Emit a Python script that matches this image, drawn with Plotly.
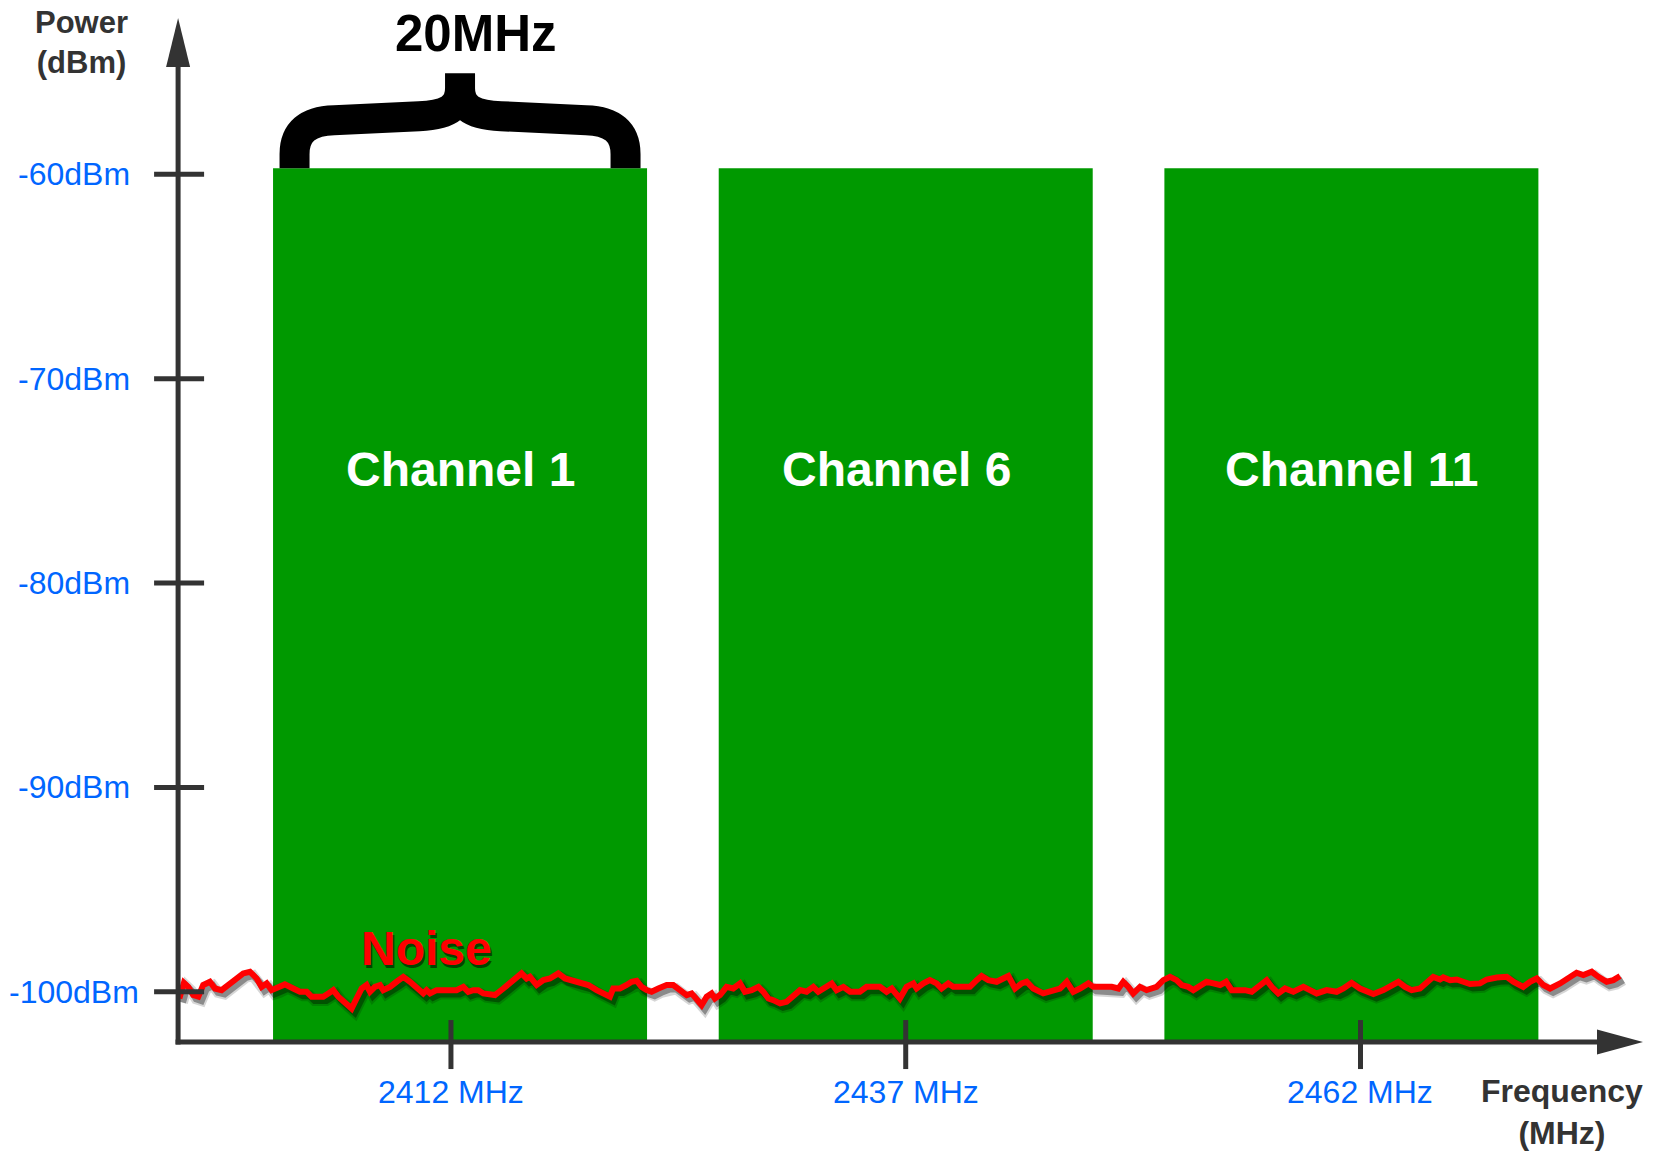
import plotly.graph_objects as go

# ---------------- data ----------------
CHANNELS = ["Channel 1", "Channel 6", "Channel 11"]
CHANNEL_CENTER_MHZ = [2412.5, 2437.0, 2461.5]
CHANNEL_WIDTH_MHZ = [20.56, 20.56, 20.56]
CHANNEL_TOP_DBM = [-59.7, -59.7, -59.7]

Y_TICKS = [-60, -70, -80, -90, -100]
Y_TICK_LABELS = ["-60dBm", "-70dBm", "-80dBm", "-90dBm", "-100dBm"]
X_TICKS = [2412, 2437, 2462]
X_TICK_LABELS = ["2412 MHz", "2437 MHz", "2462 MHz"]

NOISE_MHZ = [
    2397.07, 2397.32, 2397.56, 2397.83, 2398.11, 2398.38, 2398.75, 2399.03, 2399.39, 2399.76,
    2400.22, 2400.58, 2400.95, 2401.32, 2401.59, 2401.87, 2402.14, 2402.42, 2402.87, 2403.33,
    2403.70, 2404.07, 2404.34, 2404.61, 2404.98, 2405.26, 2405.53, 2405.81, 2406.17, 2406.54,
    2406.81, 2407.09, 2407.36, 2407.55, 2407.82, 2408.10, 2408.28, 2408.65, 2409.01, 2409.38,
    2409.75, 2410.11, 2410.48, 2410.66, 2410.85, 2411.21, 2411.76, 2412.31, 2412.68, 2412.95,
    2413.23, 2413.50, 2413.78, 2414.14, 2414.42, 2414.88, 2415.24, 2415.61, 2415.88, 2416.16,
    2416.34, 2416.71, 2417.08, 2417.44, 2417.90, 2418.27, 2418.63, 2419.09, 2419.55, 2420.01,
    2420.37, 2420.74, 2420.92, 2421.29, 2421.66, 2421.93, 2422.21, 2422.48, 2422.76, 2423.03,
    2423.40, 2423.86, 2424.22, 2424.59, 2424.96, 2425.23, 2425.51, 2425.78, 2426.06, 2426.33,
    2426.51, 2426.79, 2427.15, 2427.52, 2427.89, 2428.16, 2428.53, 2428.90, 2429.17, 2429.45,
    2429.72, 2430.09, 2430.45, 2430.82, 2431.19, 2431.55, 2431.92, 2432.19, 2432.56, 2432.93,
    2433.20, 2433.57, 2433.94, 2434.48, 2434.85, 2435.22, 2435.58, 2435.95, 2436.23, 2436.68,
    2437.05, 2437.42, 2437.60, 2437.97, 2438.33, 2438.70, 2438.97, 2439.34, 2439.62, 2439.98,
    2440.53, 2440.90, 2441.17, 2441.54, 2442.00, 2442.36, 2442.64, 2443.01, 2443.37, 2443.65,
    2444.01, 2444.56, 2445.11, 2445.48, 2445.85, 2446.21, 2446.58, 2447.04, 2447.31, 2447.86,
    2448.32, 2448.69, 2448.96, 2449.24, 2449.51, 2449.88, 2450.24, 2450.79, 2451.16, 2451.53,
    2451.89, 2452.17, 2452.53, 2452.81, 2453.18, 2453.54, 2453.91, 2454.28, 2454.61, 2454.92,
    2455.28, 2455.65, 2456.02, 2456.38, 2456.84, 2457.12, 2457.48, 2457.85, 2458.31, 2458.86,
    2459.22, 2459.59, 2460.14, 2460.69, 2461.06, 2461.51, 2461.97, 2462.34, 2462.71, 2463.26,
    2463.62, 2464.08, 2464.45, 2464.81, 2465.27, 2465.64, 2466.00, 2466.37, 2466.55, 2466.92,
    2467.29, 2467.65, 2468.02, 2468.57, 2468.94, 2469.49, 2470.04, 2470.40, 2470.95, 2471.32,
    2471.69, 2472.05, 2472.42, 2472.97, 2473.43, 2473.88, 2474.25, 2474.71, 2475.08, 2475.53,
    2475.90, 2476.27,
]
NOISE_DBM = [
    -100.33, -99.56, -99.76, -100.16, -100.24, -99.67, -99.51, -99.84, -99.92, -99.67,
    -99.43, -99.10, -99.02, -99.35, -99.76, -99.59, -99.92, -99.84, -99.64, -99.84,
    -100.00, -100.00, -100.24, -100.24, -100.24, -100.08, -99.92, -100.24, -100.57, -100.82,
    -100.33, -99.84, -99.67, -100.00, -99.76, -99.67, -99.92, -99.76, -99.51, -99.27,
    -99.51, -99.76, -100.08, -99.92, -100.08, -99.92, -99.92, -99.92, -99.76, -100.00,
    -99.92, -99.92, -100.08, -100.16, -100.16, -99.84, -99.59, -99.35, -99.10, -99.35,
    -99.27, -99.67, -99.43, -99.35, -99.10, -99.35, -99.43, -99.59, -99.67, -99.92,
    -100.08, -100.24, -99.84, -99.84, -99.67, -99.51, -99.46, -99.76, -99.92, -100.00,
    -99.84, -99.67, -99.67, -99.92, -100.16, -100.08, -100.41, -100.65, -100.24, -100.08,
    -100.33, -100.16, -99.76, -99.84, -99.59, -100.00, -99.92, -99.76, -100.00, -100.33,
    -100.41, -100.57, -100.49, -100.24, -99.92, -100.00, -99.76, -100.00, -99.76, -99.59,
    -99.92, -99.76, -100.00, -100.00, -99.76, -99.76, -99.76, -100.00, -99.84, -100.33,
    -99.76, -99.59, -99.84, -99.59, -99.43, -99.59, -99.84, -99.59, -99.76, -99.76,
    -99.76, -99.43, -99.23, -99.43, -99.51, -99.35, -99.23, -99.84, -99.59, -99.51,
    -99.84, -100.08, -99.92, -99.84, -99.51, -100.00, -99.84, -99.59, -99.76, -99.76,
    -99.76, -99.84, -99.51, -99.76, -100.08, -99.76, -99.92, -99.76, -99.43, -99.27,
    -99.43, -99.67, -99.76, -99.92, -99.67, -99.51, -99.59, -99.67, -99.51, -99.92,
    -99.92, -99.92, -100.00, -99.76, -99.43, -99.76, -100.08, -99.84, -100.00, -99.76,
    -99.92, -100.08, -99.92, -100.00, -99.84, -99.56, -99.84, -100.00, -100.11, -99.92,
    -99.76, -99.51, -99.76, -99.92, -99.84, -99.59, -99.27, -99.40, -99.30, -99.43,
    -99.40, -99.51, -99.62, -99.59, -99.40, -99.30, -99.27, -99.51, -99.76, -99.51,
    -99.35, -99.67, -99.84, -99.59, -99.35, -99.07, -99.18, -99.02, -99.27, -99.51,
    -99.43, -99.23,
]

# ---------------- layout / style ----------------
W, H = 1663, 1152
X_RANGE = [2387.21, 2478.63]
Y_RANGE = [-107.84, -51.47]
X_ORIGIN, Y_ORIGIN = 2397.0, -102.46
X_TIP, Y_TIP = 2477.53, -52.35
LABEL_XSHIFT = [0, -9, 0]

GREEN = "#009900"
RED = "#ff0000"
BLUE = "#0066ff"
AXIS = "#333333"
FONT = "Liberation Sans, Arial, Helvetica, sans-serif"


def px(x):
    return x / W


def py(y):
    return 1 - y / H


fig = go.Figure()

fig.add_trace(go.Bar(
    x=CHANNEL_CENTER_MHZ,
    y=[t - Y_ORIGIN for t in CHANNEL_TOP_DBM],
    base=Y_ORIGIN,
    width=CHANNEL_WIDTH_MHZ,
    marker=dict(color=GREEN, line=dict(width=0)),
    hoverinfo="skip",
))

# noise drop shadow (same data, small offset)
SH_DX, SH_DY = 0.17, -0.19
for col, w in [("rgba(0,0,0,0.16)", 11), ("rgba(0,0,0,0.35)", 7)]:
    fig.add_trace(go.Scatter(
        x=[v + SH_DX for v in NOISE_MHZ],
        y=[v + SH_DY for v in NOISE_DBM],
        mode="lines", line=dict(color=col, width=w),
        hoverinfo="skip",
    ))

fig.add_trace(go.Scatter(
    x=NOISE_MHZ, y=NOISE_DBM, mode="lines",
    line=dict(color=RED, width=6), hoverinfo="skip",
))

shapes = []
# axes
shapes.append(dict(type="line", xref="x", yref="y", x0=X_ORIGIN - 0.14, x1=X_TIP - 1.5,
                   y0=Y_ORIGIN, y1=Y_ORIGIN, line=dict(color=AXIS, width=5)))
shapes.append(dict(type="line", xref="x", yref="y", x0=X_ORIGIN, x1=X_ORIGIN,
                   y0=Y_ORIGIN - 0.12, y1=Y_TIP - 1.2, line=dict(color=AXIS, width=5)))
shapes.append(dict(type="path", xref="x", yref="y", xsizemode="pixel", ysizemode="pixel",
                   xanchor=X_TIP, yanchor=Y_ORIGIN, path="M 0 0 L -46 12.5 L -46 -12.5 Z",
                   fillcolor=AXIS, line=dict(width=0)))
shapes.append(dict(type="path", xref="x", yref="y", xsizemode="pixel", ysizemode="pixel",
                   xanchor=X_ORIGIN, yanchor=Y_TIP, path="M 0 0 L -12 -49 L 12 -49 Z",
                   fillcolor=AXIS, line=dict(width=0)))
# tick marks crossing the axes
for t in Y_TICKS:
    shapes.append(dict(type="line", xref="x", yref="y", xsizemode="pixel", xanchor=X_ORIGIN,
                       x0=-24, x1=26, y0=t, y1=t, line=dict(color=AXIS, width=5)))
for t in X_TICKS:
    shapes.append(dict(type="line", xref="x", yref="y", ysizemode="pixel", yanchor=Y_ORIGIN,
                       y0=-27, y1=22, x0=t, x1=t, line=dict(color=AXIS, width=5)))
# brace above channel 1
brace = ("M -165.5 0 L -165.5 14 Q -165.5 47 -126 48 L -41 52 C -14 53 0 60 0 80 L 0 95 "
         "M 165.5 0 L 165.5 14 Q 165.5 47 126 48 L 41 52 C 14 53 0 60 0 80 L 0 95")
shapes.append(dict(type="path", xref="x", yref="y", xsizemode="pixel", ysizemode="pixel",
                   xanchor=CHANNEL_CENTER_MHZ[0], yanchor=CHANNEL_TOP_DBM[0], path=brace,
                   line=dict(color="black", width=30), fillcolor="rgba(0,0,0,0)"))

ann = []
for t, lab in zip(Y_TICKS, Y_TICK_LABELS):
    ann.append(dict(xref="paper", yref="y", x=px(74), y=t, text=lab, showarrow=False,
                    xanchor="center", yanchor="middle",
                    font=dict(family=FONT, size=32, color=BLUE)))
for t, lab in zip(X_TICKS, X_TICK_LABELS):
    ann.append(dict(xref="x", yref="paper", x=t, y=py(1092), text=lab, showarrow=False,
                    xanchor="center", yanchor="middle",
                    font=dict(family=FONT, size=32, color=BLUE)))
for c, lab, s in zip(CHANNEL_CENTER_MHZ, CHANNELS, LABEL_XSHIFT):
    ann.append(dict(xref="x", yref="paper", x=c, y=py(469), text=lab, showarrow=False,
                    xanchor="center", yanchor="middle", xshift=s,
                    font=dict(family=FONT, size=48, color="white", weight="bold")))
ann.append(dict(xref="paper", yref="paper", x=px(81), y=py(42), text="Power<br>(dBm)",
                showarrow=False, xanchor="center", yanchor="middle", align="center",
                font=dict(family=FONT, size=31, color=AXIS, weight="bold")))
ann.append(dict(xref="paper", yref="paper", x=px(1562), y=py(1112), text="Frequency<br>(MHz)",
                showarrow=False, xanchor="center", yanchor="middle", align="center",
                font=dict(family=FONT, size=32, color=AXIS, weight="bold")))
ann.append(dict(xref="paper", yref="paper", x=px(476), y=py(33), text="20MHz",
                showarrow=False, xanchor="center", yanchor="middle",
                font=dict(family=FONT, size=51, color="black", weight="bold")))
ann.append(dict(xref="paper", yref="paper", x=px(428), y=py(951), text="Noise",
                showarrow=False, xanchor="center", yanchor="middle",
                font=dict(family=FONT, size=48, color="rgba(0,0,0,0.55)", weight="bold")))
ann.append(dict(xref="paper", yref="paper", x=px(426), y=py(948), text="Noise",
                showarrow=False, xanchor="center", yanchor="middle",
                font=dict(family=FONT, size=48, color=RED, weight="bold")))

fig.update_layout(
    width=W, height=H, autosize=False,
    margin=dict(l=0, r=0, t=0, b=0, pad=0),
    paper_bgcolor="white", plot_bgcolor="white",
    showlegend=False,
    xaxis=dict(range=X_RANGE, visible=False, fixedrange=True),
    yaxis=dict(range=Y_RANGE, visible=False, fixedrange=True),
    shapes=shapes, annotations=ann,
)

# remove the browser's default 8px page margin so the canvas sits at (0, 0)
fig.write_html("out.html", config={"displayModeBar": False},
               post_script="document.body.style.margin='0';"
                           "document.body.style.overflow='hidden';")
